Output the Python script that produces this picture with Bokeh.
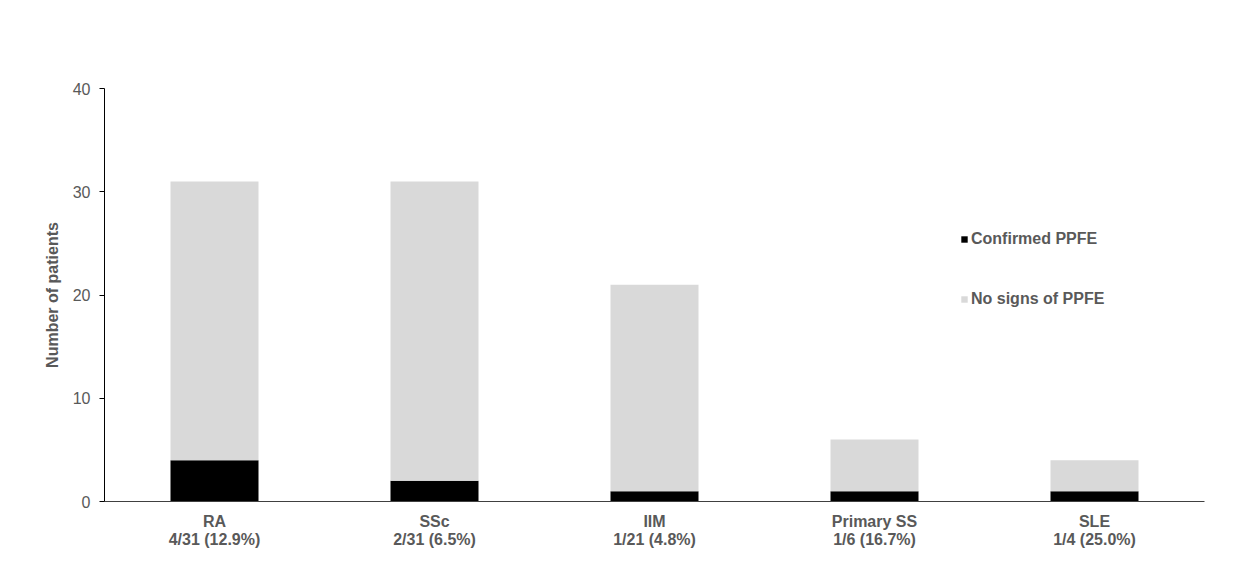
from bokeh.plotting import figure
from bokeh.models import Legend, LegendItem, FactorRange, Range1d, CategoricalAxis, Label
from bokeh.embed import file_html
from bokeh.resources import INLINE

categories = ["RA", "SSc", "IIM", "Primary SS", "SLE"]
sub_labels = ["4/31 (12.9%)", "2/31 (6.5%)", "1/21 (4.8%)", "1/6 (16.7%)", "1/4 (25.0%)"]
confirmed = [4, 2, 1, 1, 1]
no_signs = [27, 29, 20, 5, 3]
series = ["confirmed", "no_signs"]
series_labels = ["Confirmed PPFE", "No signs of PPFE"]
colors = ["#000000", "#d9d9d9"]
title_text = "Figure. Prevalence of PPFE in each CTD."

data = {"cat": categories, "confirmed": confirmed, "no_signs": no_signs}

p = figure(x_range=FactorRange(*categories, range_padding=0), y_range=Range1d(0, 40),
           width=1228, height=559, output_backend="svg", toolbar_location=None,
           min_border_left=104, min_border_right=24, min_border_top=88, min_border_bottom=58)
p.extra_x_ranges = {"sub": FactorRange(*sub_labels, range_padding=0)}

rs = p.vbar_stack(series, x="cat", width=0.4, color=colors, line_color=None, source=data)

# title placed above the frame (frame: 1100 px for 5 factors, 413 px for 0..40)
p.add_layout(Label(x=-62 / 220, y=40 + 58 * 40 / 413, text=title_text,
                   text_font="Open Sans", text_font_size="15.3px", text_font_style="bold",
                   text_color="#000000", text_baseline="middle", text_align="left"))

p.outline_line_color = None
p.grid.grid_line_color = None
p.background_fill_color = None
p.border_fill_color = "white"

p.yaxis.ticker = [0, 10, 20, 30, 40]
p.yaxis.axis_label = "Number of patients"
p.yaxis.axis_label_text_font = "Liberation Sans"
p.yaxis.axis_label_text_font_style = "bold"
p.yaxis.axis_label_text_font_size = "16px"
p.yaxis.axis_label_text_color = "#595959"
p.yaxis.axis_label_standoff = 9
p.yaxis.major_label_text_font = "Liberation Sans"
p.yaxis.major_label_text_font_size = "16px"
p.yaxis.major_label_text_color = "#595959"
p.yaxis.major_label_standoff = 9
p.yaxis.major_tick_out = 5
p.yaxis.major_tick_in = 0
p.yaxis.minor_tick_line_color = None
p.yaxis.axis_line_color = "#000000"
p.yaxis.major_tick_line_color = "#000000"

p.xaxis.major_label_text_font = "Liberation Sans"
p.xaxis.major_label_text_font_style = "bold"
p.xaxis.major_label_text_font_size = "16px"
p.xaxis.major_label_text_color = "#595959"
p.xaxis.major_label_standoff = 5
p.xaxis.major_tick_line_color = None
p.xaxis.axis_line_color = "#404040"

ax2 = CategoricalAxis(x_range_name="sub",
                      major_label_text_font="Liberation Sans", major_label_text_font_style="bold",
                      major_label_text_font_size="16px", major_label_text_color="#595959",
                      major_label_standoff=-8, major_tick_line_color=None, axis_line_color=None,
                      minor_tick_line_color=None)
p.add_layout(ax2, "below")

items = [LegendItem(label=series_labels[i], renderers=[rs[i]]) for i in range(2)]
legend = Legend(items=items, location=(856, 193), orientation="vertical",
                glyph_width=8, glyph_height=8, label_standoff=3, spacing=42,
                label_text_font="Liberation Sans", label_text_font_style="bold",
                label_text_font_size="16px", label_text_color="#595959",
                background_fill_alpha=0, border_line_color=None, padding=0, margin=0)
p.add_layout(legend, "center")

open("out.html", "w").write(file_html(p, INLINE))
